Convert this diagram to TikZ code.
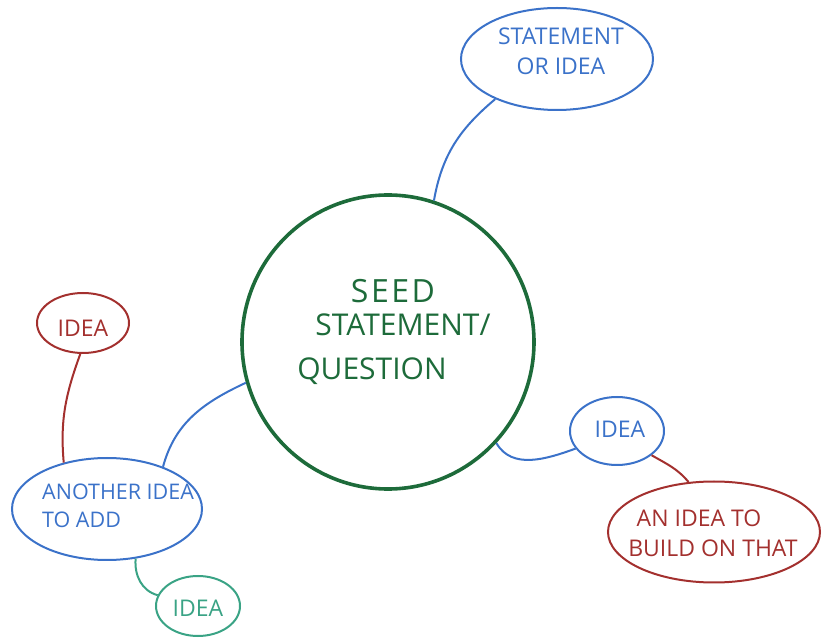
\documentclass[tikz,border=0pt]{standalone}
\usepackage{fontspec}
\setmainfont{Open Sans}
\usetikzlibrary{shapes.geometric}
\definecolor{seedgreen}{HTML}{1D6B3A}
\definecolor{penblue}{HTML}{3B72C9}
\definecolor{penred}{HTML}{A3302E}
\definecolor{penteal}{HTML}{3AA385}
\begin{document}
\begin{tikzpicture}[x=1pt,y=1pt,
  bubble/.style={ellipse, draw, inner sep=0pt, line width=2pt},
  lbl/.style={anchor=base, inner sep=0pt},
  link/.style={line width=2pt},
  bigtxt/.style={font=\fontsize{30}{34}\selectfont},
  midtxt/.style={font=\fontsize{23}{27}\selectfont}]
\useasboundingbox (0,0) rectangle (823,638);
% bubbles
\node[bubble, draw=seedgreen, line width=3.6pt, minimum width=292pt, minimum height=294pt] (seed) at (388,296) {};
\node[bubble, draw=penblue, minimum width=192pt, minimum height=102pt] (stmt) at (557,579) {};
\node[bubble, draw=penred, minimum width=92pt, minimum height=60pt] (idea1) at (83,315) {};
\node[bubble, draw=penblue, minimum width=190pt, minimum height=102pt] (another) at (107,129) {};
\node[bubble, draw=penteal, minimum width=84pt, minimum height=60pt] (idea3) at (198,32) {};
\node[bubble, draw=penblue, minimum width=94pt, minimum height=68pt] (idea2) at (617,207) {};
\node[bubble, draw=penred, minimum width=212pt, minimum height=101pt] (build) at (714,106) {};
% texts
\node[lbl, font=\fontsize{32}{34}\selectfont\addfontfeature{LetterSpace=8}, text=seedgreen] (t1) at (393,335) {SEED};
\node[lbl, bigtxt, text=seedgreen] (t2) at (403,302) {STATEMENT/};
\node[lbl, bigtxt, text=seedgreen] (t3) at (372,258) {QUESTION};
\node[lbl, midtxt, text=penblue] (t4) at (561,593) {STATEMENT};
\node[lbl, midtxt, text=penblue] (t5) at (561,563) {OR IDEA};
\node[lbl, midtxt, text=penred] (t6) at (83,301) {IDEA};
\node[lbl, font=\fontsize{21.5}{26}\selectfont, anchor=base west, text=penblue] (t7) at (42,138) {ANOTHER IDEA};
\node[lbl, font=\fontsize{21.5}{26}\selectfont, anchor=base west, text=penblue] (t8) at (42,110) {TO ADD};
\node[lbl, midtxt, text=penteal] (t9) at (198,21) {IDEA};
\node[lbl, midtxt, text=penblue] (t10) at (620,200) {IDEA};
\node[lbl, midtxt, text=penred] (t11) at (699,111) {AN IDEA TO};
\node[lbl, midtxt, text=penred] (t12) at (713,81) {BUILD ON THAT};
% connectors
\draw[link, penblue] (seed.72) to[out=80, in=220] (stmt.213);
\draw[link, penblue] (another.37) to[out=75, in=205] (seed.196);
\draw[link, penred] (idea1.265) to[out=250, in=95] (another.133);
\draw[link, penteal] (another.300) to[out=265, in=165] (idea3.165);
\draw[link, penblue] (seed.317) to[out=300, in=200] (idea2.203);
\draw[link, penred] (idea2.325) to[out=-30, in=130] (build.117);
\end{tikzpicture}
\end{document}
